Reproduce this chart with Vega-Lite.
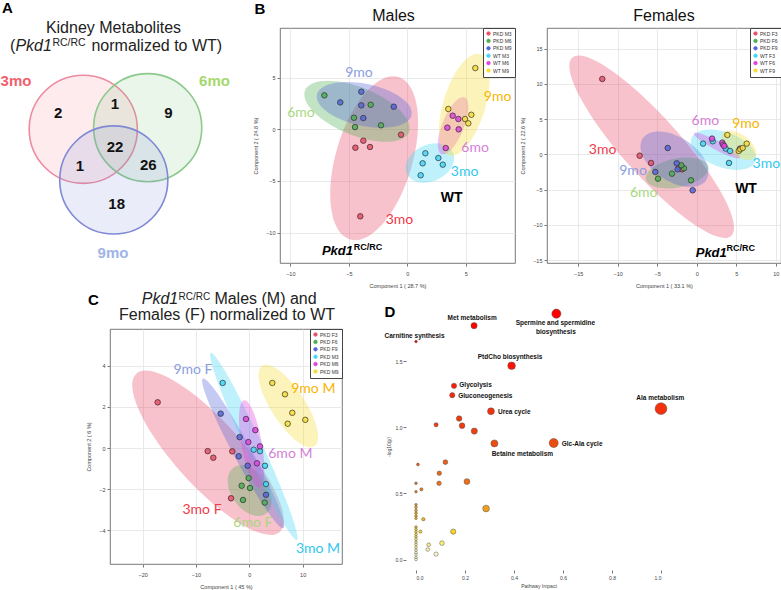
{
  "$schema": "https://vega.github.io/schema/vega-lite/v6.json",
  "padding": 0,
  "background": "white",
  "spacing": 0,
  "resolve": {"scale": {"color": "independent", "fill": "independent", "stroke": "independent", "x": "independent", "y": "independent", "size": "independent"}, "legend": {"color": "independent", "fill": "independent", "stroke": "independent"}},
  "config": {
    "font": "Liberation Sans",
    "view": {"stroke": "#555", "strokeWidth": 0.8},
    "axis": {"labelFontSize": 5.5, "labelColor": "#444", "titleFontSize": 5.5, "titleFontWeight": "normal", "titleColor": "#444", "gridColor": "#e3e3e3", "gridWidth": 0.8, "tickColor": "#777", "tickSize": 3, "domain": false, "labelFont": "Liberation Sans", "titleFont": "Liberation Sans"},
    "legend": {"title": null, "orient": "top-right", "offset": 0, "padding": 3, "strokeColor": "#444", "fillColor": "#ffffff", "labelFontSize": 5, "symbolSize": 13, "symbolStrokeWidth": 0.7, "symbolFillColor": "transparent", "rowPadding": 0.4, "labelOffset": 2, "symbolType": "circle", "labelColor": "#333"},
    "title": {"fontSize": 16, "fontWeight": "normal", "font": "Liberation Sans", "color": "#111", "offset": 4}
  },
  "datasets": {
    "venn_sets": [{"set": "3mo", "x": -0.52, "y": 0.274}, {"set": "6mo", "x": 0.536, "y": 0.3}, {"set": "9mo", "x": -0.02, "y": -0.557}],
    "venn_counts": [{"n": "2", "x": -0.93, "y": 0.546}, {"n": "1", "x": 0, "y": 0.684}, {"n": "9", "x": 0.874, "y": 0.546}, {"n": "22", "x": 0, "y": -0.011}, {"n": "1", "x": -0.574, "y": -0.328}, {"n": "26", "x": 0.546, "y": -0.311}, {"n": "18", "x": 0.028, "y": -0.956}],
    "venn_labels": [{"set": "3mo", "x": -1.623, "y": 1.066}, {"set": "6mo", "x": 1.631, "y": 1.066}, {"set": "9mo", "x": -0.033, "y": -1.762}],
    "m_pts": [
      {"g": "PKD M3", "x": -3.76, "y": -1.1}, {"g": "PKD M3", "x": -4.44, "y": -1.78}, {"g": "PKD M3", "x": -3.19, "y": -1.71}, {"g": "PKD M3", "x": -0.54, "y": -0.52}, {"g": "PKD M3", "x": -4.02, "y": -8.42},
      {"g": "PKD M6", "x": -7.09, "y": 3.29}, {"g": "PKD M6", "x": -4.56, "y": 1.12}, {"g": "PKD M6", "x": -4.47, "y": 0.22}, {"g": "PKD M6", "x": -3.13, "y": 2.38}, {"g": "PKD M6", "x": -2.25, "y": 0.39},
      {"g": "PKD M9", "x": -5.73, "y": 2.61}, {"g": "PKD M9", "x": -3.93, "y": 3.64}, {"g": "PKD M9", "x": -3.93, "y": 2.32}, {"g": "PKD M9", "x": -3.76, "y": 1.09}, {"g": "PKD M9", "x": -1.16, "y": 2.19},
      {"g": "WT M3", "x": 1.54, "y": -2.32}, {"g": "WT M3", "x": 1.31, "y": -3.29}, {"g": "WT M3", "x": 1.14, "y": -4.45}, {"g": "WT M3", "x": 2.65, "y": -2.78}, {"g": "WT M3", "x": 3.03, "y": -3.42},
      {"g": "WT M6", "x": 3.28, "y": -1.81}, {"g": "WT M6", "x": 3.42, "y": 0.16}, {"g": "WT M6", "x": 3.88, "y": 1.32}, {"g": "WT M6", "x": 4.36, "y": 1.0}, {"g": "WT M6", "x": 4.39, "y": 0.0},
      {"g": "WT M9", "x": 3.5, "y": 1.97}, {"g": "WT M9", "x": 4.93, "y": 1.0}, {"g": "WT M9", "x": 5.47, "y": 1.41}, {"g": "WT M9", "x": 5.21, "y": 0.58}, {"g": "WT M9", "x": 5.81, "y": 5.93}
    ],
    "m_ell": [{"g": "PKD M3", "x": -2.83, "y": -2.8}, {"g": "PKD M6", "x": -4.3, "y": 1.75}, {"g": "PKD M9", "x": -3.68, "y": 2.37}, {"g": "WT M3", "x": 1.93, "y": -3.26}, {"g": "WT M6", "x": 3.91, "y": 0.35}, {"g": "WT M9", "x": 4.87, "y": 2.38}],
    "m_lab": [{"t": "9mo", "g": "PKD M9", "x": -4.13, "y": 5.45}, {"t": "6mo", "g": "PKD M6", "x": -9.09, "y": 1.58}, {"t": "9mo", "g": "WT M9", "x": 7.71, "y": 3.13}, {"t": "6mo", "g": "WT M6", "x": 5.79, "y": -1.81}, {"t": "3mo", "g": "WT M3", "x": 4.89, "y": -4.13}, {"t": "3mo", "g": "PKD M3", "x": -0.67, "y": -8.78}],
    "f_pts": [
      {"g": "PKD F3", "x": -11.95, "y": 10.68}, {"g": "PKD F3", "x": -7.22, "y": -0.2}, {"g": "PKD F3", "x": -5.78, "y": -1.23}, {"g": "PKD F3", "x": -1.86, "y": -2.13}, {"g": "PKD F3", "x": -2.2, "y": -1.76},
      {"g": "PKD F6", "x": -3.13, "y": -2.75}, {"g": "PKD F6", "x": -4.9, "y": -3.46}, {"g": "PKD F6", "x": -0.72, "y": -3.69}, {"g": "PKD F6", "x": -1.61, "y": -1.99}, {"g": "PKD F6", "x": -1.95, "y": -1.56},
      {"g": "PKD F9", "x": -3.67, "y": 0.89}, {"g": "PKD F9", "x": -5.24, "y": -2.51}, {"g": "PKD F9", "x": -2.53, "y": -1.28}, {"g": "PKD F9", "x": -2.41, "y": -2.13}, {"g": "PKD F9", "x": -0.51, "y": -5.11},
      {"g": "WT F3", "x": 0.8, "y": 1.51}, {"g": "WT F3", "x": 2.03, "y": 1.84}, {"g": "WT F3", "x": 3.67, "y": 0.8}, {"g": "WT F3", "x": 4.22, "y": 0.47}, {"g": "WT F3", "x": 4.09, "y": -1.23},
      {"g": "WT F6", "x": 1.94, "y": 2.22}, {"g": "WT F6", "x": 3.24, "y": 1.65}, {"g": "WT F6", "x": 3.33, "y": 1.37}, {"g": "WT F6", "x": 3.5, "y": 1.18}, {"g": "WT F6", "x": 5.48, "y": 0.8},
      {"g": "WT F9", "x": 3.88, "y": 2.74}, {"g": "WT F9", "x": 5.32, "y": 0.47}, {"g": "WT F9", "x": 5.52, "y": 0.71}, {"g": "WT F9", "x": 5.82, "y": 0.89}, {"g": "WT F9", "x": 6.33, "y": 1.51}
    ],
    "f_ell": [{"g": "PKD F3", "x": -5.7, "y": 1.06}, {"g": "PKD F6", "x": -2.47, "y": -2.65}, {"g": "PKD F9", "x": -2.81, "y": -0.71}, {"g": "WT F3", "x": 3.39, "y": 0.65}, {"g": "WT F6", "x": 2.57, "y": 1.25}, {"g": "WT F9", "x": 5.33, "y": 1.29}],
    "f_lab": [{"t": "6mo", "g": "WT F6", "x": 1.09, "y": 4.72}, {"t": "9mo", "g": "WT F9", "x": 6.24, "y": 4.26}, {"t": "3mo", "g": "PKD F3", "x": -11.92, "y": 0.54}, {"t": "9mo", "g": "PKD F9", "x": -8.06, "y": -2.41}, {"t": "6mo", "g": "PKD F6", "x": -6.71, "y": -5.56}, {"t": "3mo", "g": "WT F3", "x": 8.81, "y": -1.38}],
    "c_pts": [
      {"g": "PKD F3", "x": -17.18, "y": 2.22}, {"g": "PKD F3", "x": -7.8, "y": -0.15}, {"g": "PKD F3", "x": -6.75, "y": -0.47}, {"g": "PKD F3", "x": -3.19, "y": -0.16}, {"g": "PKD F3", "x": -3.43, "y": -2.44},
      {"g": "PKD F6", "x": -0.12, "y": -1.46}, {"g": "PKD F6", "x": -1.43, "y": -1.83}, {"g": "PKD F6", "x": 0.13, "y": -1.94}, {"g": "PKD F6", "x": -1.18, "y": -2.52}, {"g": "PKD F6", "x": 2.89, "y": -2.65},
      {"g": "PKD F9", "x": -5.37, "y": 1.67}, {"g": "PKD F9", "x": -1.81, "y": 0.53}, {"g": "PKD F9", "x": -1.99, "y": -0.4}, {"g": "PKD F9", "x": -0.31, "y": -0.86}, {"g": "PKD F9", "x": 3.13, "y": -2.27},
      {"g": "PKD M3", "x": -4.99, "y": 3.16}, {"g": "PKD M3", "x": 0.82, "y": -0.08}, {"g": "PKD M3", "x": 2.0, "y": -0.15}, {"g": "PKD M3", "x": 2.94, "y": -0.86}, {"g": "PKD M3", "x": 3.13, "y": -1.75},
      {"g": "PKD M6", "x": -0.62, "y": 1.41}, {"g": "PKD M6", "x": 1.13, "y": 0.87}, {"g": "PKD M6", "x": -0.19, "y": 0.29}, {"g": "PKD M6", "x": 2.0, "y": 0.08}, {"g": "PKD M6", "x": 1.44, "y": -0.74},
      {"g": "PKD M9", "x": 4.31, "y": 3.16}, {"g": "PKD M9", "x": 6.69, "y": 2.61}, {"g": "PKD M9", "x": 8.06, "y": 1.71}, {"g": "PKD M9", "x": 7.2, "y": 1.18}, {"g": "PKD M9", "x": 10.5, "y": 1.37}
    ],
    "c_ell": [{"g": "PKD F3", "x": -7.74, "y": -0.23}, {"g": "PKD F6", "x": 0.07, "y": -2.07}, {"g": "PKD F9", "x": -1.15, "y": -0.26}, {"g": "PKD M3", "x": 0.85, "y": 0.08}, {"g": "PKD M6", "x": 0.44, "y": 0.2}, {"g": "PKD M9", "x": 7.32, "y": 2.04}],
    "c_lab": [{"t": "9mo F", "g": "PKD F9", "x": -10.56, "y": 3.79}, {"t": "9mo M", "g": "PKD M9", "x": 12.0, "y": 2.89}, {"t": "6mo M", "g": "PKD M6", "x": 7.69, "y": -0.31}, {"t": "3mo F", "g": "PKD F3", "x": -8.87, "y": -3.01}, {"t": "6mo F", "g": "PKD F6", "x": 0.66, "y": -3.65}, {"t": "3mo M", "g": "PKD M3", "x": 12.88, "y": -4.88}],
    "d_pts": [
      {"x": 0.573, "y": 1.861}, {"x": 0.237, "y": 1.77}, {"x": 0.0, "y": 1.65}, {"x": 0.39, "y": 1.467}, {"x": 0.155, "y": 1.315}, {"x": 0.148, "y": 1.244}, {"x": 1.0, "y": 1.142}, {"x": 0.306, "y": 1.122}, {"x": 0.176, "y": 1.067}, {"x": 0.082, "y": 1.02}, {"x": 0.188, "y": 1.013}, {"x": 0.238, "y": 0.972}, {"x": 0.32, "y": 0.879}, {"x": 0.562, "y": 0.882}, {"x": 0.008, "y": 0.719}, {"x": 0.12, "y": 0.737}, {"x": 0.095, "y": 0.653}, {"x": 0.0, "y": 0.577}, {"x": 0.094, "y": 0.577}, {"x": 0.208, "y": 0.59}, {"x": 0.022, "y": 0.531}, {"x": 0.0, "y": 0.513},
      {"x": 0.0, "y": 0.414}, {"x": 0.0, "y": 0.394}, {"x": 0.0, "y": 0.371}, {"x": 0.0, "y": 0.351}, {"x": 0.0, "y": 0.33}, {"x": 0.0, "y": 0.312}, {"x": 0.286, "y": 0.386}, {"x": 0.03, "y": 0.305},
      {"x": 0.0, "y": 0.246}, {"x": 0.0, "y": 0.229}, {"x": 0.0, "y": 0.211}, {"x": 0.0, "y": 0.19}, {"x": 0.0, "y": 0.17}, {"x": 0.0, "y": 0.152}, {"x": 0.0, "y": 0.132}, {"x": 0.0, "y": 0.112}, {"x": 0.0, "y": 0.091}, {"x": 0.0, "y": 0.071}, {"x": 0.0, "y": 0.051}, {"x": 0.0, "y": 0.033}, {"x": 0.0, "y": 0.013},
      {"x": 0.018, "y": 0.211}, {"x": 0.152, "y": 0.211}, {"x": 0.106, "y": 0.124}, {"x": 0.052, "y": 0.112}, {"x": 0.048, "y": 0.076}, {"x": 0.082, "y": 0.041}, {"x": 0.0, "y": 0.0}
    ],
    "d_lab": [
      {"t": "Met metabolism", "x": 0.229, "y": 1.826}, {"t": "Spermine and spermidine", "x": 0.569, "y": 1.788}, {"t": "biosynthesis", "x": 0.571, "y": 1.724}, {"t": "Carnitine synthesis", "x": -0.006, "y": 1.694}, {"t": "PtdCho biosynthesis", "x": 0.384, "y": 1.534}, {"t": "Glycolysis", "x": 0.243, "y": 1.318}, {"t": "Gluconeogenesis", "x": 0.283, "y": 1.241}, {"t": "Ala metabolism", "x": 0.997, "y": 1.222}, {"t": "Urea cycle", "x": 0.401, "y": 1.12}, {"t": "Betaine metabolism", "x": 0.434, "y": 0.799}, {"t": "Glc-Ala cycle", "x": 0.678, "y": 0.876}
    ]
  },
  "vconcat": [
    {
      "resolve": {"scale": {"color": "independent", "fill": "independent", "stroke": "independent", "x": "independent", "y": "independent"}, "legend": {"color": "independent", "fill": "independent", "stroke": "independent"}},
      "hconcat": [
        {
          "width": 248, "height": 235, "view": {"stroke": null},
          "encoding": {
            "x": {"field": "x", "type": "quantitative", "scale": {"domain": [-1.885, 2.18], "nice": false, "zero": false}, "axis": null},
            "y": {"field": "y", "type": "quantitative", "scale": {"domain": [-1.918, 1.934], "nice": false, "zero": false}, "axis": null}
          },
          "layer": [
            {"data": {"name": "venn_sets"}, "mark": {"type": "point", "shape": "circle", "filled": true, "size": 11690, "opacity": 1, "fillOpacity": 0.15, "strokeWidth": 1.6},
             "encoding": {"fill": {"field": "set", "type": "nominal", "scale": {"domain": ["3mo", "6mo", "9mo"], "range": ["#f07890", "#7cc47c", "#7080d8"]}, "legend": null},
                          "stroke": {"field": "set", "type": "nominal", "scale": {"domain": ["3mo", "6mo", "9mo"], "range": ["#ee8aa0", "#8cc98c", "#7f89d6"]}, "legend": null}}},
            {"data": {"name": "venn_counts"}, "mark": {"type": "text", "fontSize": 15, "fontWeight": "bold", "color": "#111"}, "encoding": {"text": {"field": "n"}}},
            {"data": {"name": "venn_labels"}, "mark": {"type": "text", "fontSize": 15, "fontWeight": "bold"},
             "encoding": {"text": {"field": "set"}, "color": {"field": "set", "type": "nominal", "scale": {"domain": ["3mo", "6mo", "9mo"], "range": ["#f2606f", "#a6d86e", "#9fb4e7"]}, "legend": null}}},
            {"data": {"values": [{"t": "A", "x": -1.762, "y": 2.262}, {"t": "B", "x": 2.377, "y": 2.246}]}, "mark": {"type": "text", "fontSize": 15, "fontWeight": "bold", "color": "#000"}, "encoding": {"text": {"field": "t"}}},
            {"data": {"values": [{"t": "Kidney Metabolites", "x": -0.025, "y": 1.934}, {"t": "(", "x": -1.677, "y": 1.639}, {"t": "normalized to WT)", "x": 0.685, "y": 1.639}]}, "mark": {"type": "text", "fontSize": 16, "color": "#222"}, "encoding": {"text": {"field": "t"}}},
            {"data": {"values": [{"t": "Pkd1", "x": -1.333, "y": 1.639}]}, "mark": {"type": "text", "fontSize": 16, "fontStyle": "italic", "color": "#222"}, "encoding": {"text": {"field": "t"}}},
            {"data": {"values": [{"t": "RC/RC", "x": -0.754, "y": 1.693}]}, "mark": {"type": "text", "fontSize": 10.5, "color": "#222"}, "encoding": {"text": {"field": "t"}}}
          ]
        },
        {
          "width": 235, "height": 235,
          "title": {"text": "Males", "dx": -4},
          "encoding": {
            "x": {"field": "x", "type": "quantitative", "scale": {"domain": [-10.88, 9.2], "nice": false, "zero": false}, "axis": {"values": [-10, -5, 0, 5], "title": "Component 1 ( 28.7 %)", "labelPadding": 5, "titlePadding": 7}},
            "y": {"field": "y", "type": "quantitative", "scale": {"domain": [-12.94, 9.81], "nice": false, "zero": false}, "axis": {"values": [-10, -5, 0, 5], "title": "Component 2 ( 24.8 %)", "labelPadding": 2, "titlePadding": 7}}
          },
          "layer": [
            {"data": {"name": "m_ell"}, "transform": [{"filter": {"field": "g", "equal": "PKD M3"}}], "mark": {"type": "point", "filled": true, "size": 4, "opacity": 0.35, "strokeWidth": 0, "color": "#e8506a", "angle": -73.4, "shape": "M -84.7 0 A 84.7 38.3 0 0 1 84.7 0 A 84.7 38.3 0 0 1 -84.7 0 Z"}},
            {"data": {"name": "m_ell"}, "transform": [{"filter": {"field": "g", "equal": "PKD M6"}}], "mark": {"type": "point", "filled": true, "size": 4, "opacity": 0.35, "strokeWidth": 0, "color": "#4fae55", "angle": 22, "shape": "M -56 0 A 56 24 0 0 1 56 0 A 56 24 0 0 1 -56 0 Z"}},
            {"data": {"name": "m_ell"}, "transform": [{"filter": {"field": "g", "equal": "PKD M9"}}], "mark": {"type": "point", "filled": true, "size": 4, "opacity": 0.35, "strokeWidth": 0, "color": "#5566d6", "angle": 12, "shape": "M -48.4 0 A 48.4 21 0 0 1 48.4 0 A 48.4 21 0 0 1 -48.4 0 Z"}},
            {"data": {"name": "m_ell"}, "transform": [{"filter": {"field": "g", "equal": "WT M3"}}], "mark": {"type": "point", "filled": true, "size": 4, "opacity": 0.35, "strokeWidth": 0, "color": "#45d6f6", "angle": -25, "shape": "M -25.3 0 A 25.3 18.3 0 0 1 25.3 0 A 25.3 18.3 0 0 1 -25.3 0 Z"}},
            {"data": {"name": "m_ell"}, "transform": [{"filter": {"field": "g", "equal": "WT M6"}}], "mark": {"type": "point", "filled": true, "size": 4, "opacity": 0.35, "strokeWidth": 0, "color": "#e044e0", "angle": -68, "shape": "M -30.6 0 A 30.6 10.9 0 0 1 30.6 0 A 30.6 10.9 0 0 1 -30.6 0 Z"}},
            {"data": {"name": "m_ell"}, "transform": [{"filter": {"field": "g", "equal": "WT M9"}}], "mark": {"type": "point", "filled": true, "size": 4, "opacity": 0.35, "strokeWidth": 0, "color": "#f6dc3a", "angle": -73, "shape": "M -53 0 A 53 21 0 0 1 53 0 A 53 21 0 0 1 -53 0 Z"}},
            {"data": {"name": "m_pts"}, "mark": {"type": "point", "filled": false, "size": 30, "opacity": 1, "strokeWidth": 0.5},
             "encoding": {"stroke": {"field": "g", "type": "nominal", "scale": {"domain": ["PKD M3", "PKD M6", "PKD M9", "WT M3", "WT M6", "WT M9"], "range": ["#e8506a", "#4fae55", "#5566d6", "#45d6f6", "#e044e0", "#f6dc3a"]}, "legend": {"encode": {"symbols": {"update": {"fill": {"value": "transparent"}}}}}}}},
            {"data": {"name": "m_pts"}, "mark": {"type": "point", "filled": true, "size": 30, "opacity": 1, "fillOpacity": 0.85, "stroke": "#333", "strokeWidth": 0.7},
             "encoding": {"fill": {"field": "g", "type": "nominal", "scale": {"domain": ["PKD M3", "PKD M6", "PKD M9", "WT M3", "WT M6", "WT M9"], "range": ["#e8506a", "#4fae55", "#5566d6", "#45d6f6", "#e044e0", "#f6dc3a"]}, "legend": null}}},
            {"data": {"name": "m_lab"}, "mark": {"type": "text", "font": "Lato", "fontSize": 14},
             "encoding": {"text": {"field": "t"}, "color": {"field": "g", "type": "nominal", "scale": {"domain": ["PKD M3", "PKD M6", "PKD M9", "WT M3", "WT M6", "WT M9"], "range": ["#f03a4a", "#a8d880", "#8a9ee0", "#30c8ef", "#d47fd8", "#f7b500"]}, "legend": null}}},
            {"data": {"values": [{"t": "WT", "x": 3.78, "y": -6.65}]}, "mark": {"type": "text", "fontSize": 14, "fontWeight": "bold", "color": "#000"}, "encoding": {"text": {"field": "t"}}},
            {"data": {"values": [{"t": "Pkd1", "x": -5.97, "y": -11.73}]}, "mark": {"type": "text", "fontSize": 13, "fontWeight": "bold", "fontStyle": "italic", "color": "#000"}, "encoding": {"text": {"field": "t"}}},
            {"data": {"values": [{"t": "RC/RC", "x": -3.36, "y": -11.39}]}, "mark": {"type": "text", "fontSize": 9, "fontWeight": "bold", "color": "#000"}, "encoding": {"text": {"field": "t"}}}
          ]
        },
        {
          "width": 234, "height": 235,
          "title": {"text": "Females"},
          "encoding": {
            "x": {"field": "x", "type": "quantitative", "scale": {"domain": [-18.95, 10.67], "nice": false, "zero": false}, "axis": {"values": [-15, -10, -5, 0, 5, 10], "title": "Component 1 ( 33.1 %)", "labelPadding": 5, "titlePadding": 7}},
            "y": {"field": "y", "type": "quantitative", "scale": {"domain": [-15.42, 17.91], "nice": false, "zero": false}, "axis": {"values": [-15, -10, -5, 0, 5, 10, 15], "title": "Component 2 ( 22.6 %)", "labelPadding": 2, "titlePadding": 7}}
          },
          "layer": [
            {"data": {"name": "f_ell"}, "transform": [{"filter": {"field": "g", "equal": "PKD F3"}}], "mark": {"type": "point", "filled": true, "size": 4, "opacity": 0.35, "strokeWidth": 0, "color": "#e8506a", "angle": 48.3, "shape": "M -119.4 0 A 119.4 29 0 0 1 119.4 0 A 119.4 29 0 0 1 -119.4 0 Z"}},
            {"data": {"name": "f_ell"}, "transform": [{"filter": {"field": "g", "equal": "PKD F6"}}], "mark": {"type": "point", "filled": true, "size": 4, "opacity": 0.35, "strokeWidth": 0, "color": "#4fae55", "angle": -11.5, "shape": "M -31.8 0 A 31.8 14.5 0 0 1 31.8 0 A 31.8 14.5 0 0 1 -31.8 0 Z"}},
            {"data": {"name": "f_ell"}, "transform": [{"filter": {"field": "g", "equal": "PKD F9"}}], "mark": {"type": "point", "filled": true, "size": 4, "opacity": 0.35, "strokeWidth": 0, "color": "#5566d6", "angle": 33, "shape": "M -38 0 A 38 22 0 0 1 38 0 A 38 22 0 0 1 -38 0 Z"}},
            {"data": {"name": "f_ell"}, "transform": [{"filter": {"field": "g", "equal": "WT F3"}}], "mark": {"type": "point", "filled": true, "size": 4, "opacity": 0.35, "strokeWidth": 0, "color": "#45d6f6", "angle": 20, "shape": "M -34 0 A 34 17.7 0 0 1 34 0 A 34 17.7 0 0 1 -34 0 Z"}},
            {"data": {"name": "f_ell"}, "transform": [{"filter": {"field": "g", "equal": "WT F6"}}], "mark": {"type": "point", "filled": true, "size": 4, "opacity": 0.35, "strokeWidth": 0, "color": "#e044e0", "angle": 27.9, "shape": "M -26 0 A 26 4.5 0 0 1 26 0 A 26 4.5 0 0 1 -26 0 Z"}},
            {"data": {"name": "f_ell"}, "transform": [{"filter": {"field": "g", "equal": "WT F9"}}], "mark": {"type": "point", "filled": true, "size": 4, "opacity": 0.35, "strokeWidth": 0, "color": "#f6dc3a", "angle": 36, "shape": "M -20.2 0 A 20.2 10.8 0 0 1 20.2 0 A 20.2 10.8 0 0 1 -20.2 0 Z"}},
            {"data": {"name": "f_pts"}, "mark": {"type": "point", "filled": false, "size": 30, "opacity": 1, "strokeWidth": 0.5},
             "encoding": {"stroke": {"field": "g", "type": "nominal", "scale": {"domain": ["PKD F3", "PKD F6", "PKD F9", "WT F3", "WT F6", "WT F9"], "range": ["#e8506a", "#4fae55", "#5566d6", "#45d6f6", "#e044e0", "#f6dc3a"]}, "legend": {"encode": {"symbols": {"update": {"fill": {"value": "transparent"}}}}}}}},
            {"data": {"name": "f_pts"}, "mark": {"type": "point", "filled": true, "size": 30, "opacity": 1, "fillOpacity": 0.85, "stroke": "#333", "strokeWidth": 0.7},
             "encoding": {"fill": {"field": "g", "type": "nominal", "scale": {"domain": ["PKD F3", "PKD F6", "PKD F9", "WT F3", "WT F6", "WT F9"], "range": ["#e8506a", "#4fae55", "#5566d6", "#45d6f6", "#e044e0", "#f6dc3a"]}, "legend": null}}},
            {"data": {"name": "f_lab"}, "mark": {"type": "text", "font": "Lato", "fontSize": 14},
             "encoding": {"text": {"field": "t"}, "color": {"field": "g", "type": "nominal", "scale": {"domain": ["PKD F3", "PKD F6", "PKD F9", "WT F3", "WT F6", "WT F9"], "range": ["#f03a4a", "#a8d880", "#8a9ee0", "#30c8ef", "#d47fd8", "#f7b500"]}, "legend": null}}},
            {"data": {"values": [{"t": "WT", "x": 6.24, "y": -4.96}]}, "mark": {"type": "text", "fontSize": 14, "fontWeight": "bold", "color": "#000"}, "encoding": {"text": {"field": "t"}}},
            {"data": {"values": [{"t": "Pkd1", "x": 1.84, "y": -13.96}]}, "mark": {"type": "text", "fontSize": 13, "fontWeight": "bold", "fontStyle": "italic", "color": "#000"}, "encoding": {"text": {"field": "t"}}},
            {"data": {"values": [{"t": "RC/RC", "x": 5.58, "y": -13.29}]}, "mark": {"type": "text", "fontSize": 9, "fontWeight": "bold", "color": "#000"}, "encoding": {"text": {"field": "t"}}}
          ]
        }
      ],
      "spacing": 32,
      "bounds": "flush"
    },
    {
      "resolve": {"scale": {"color": "independent", "fill": "independent", "stroke": "independent", "x": "independent", "y": "independent", "size": "independent"}, "legend": {"color": "independent", "fill": "independent", "stroke": "independent"}},
      "hconcat": [
        {"width": 78, "height": 235, "view": {"stroke": null}, "data": {"values": [{}]}, "mark": {"type": "point", "opacity": 0, "size": 1}},
        {
          "width": 232, "height": 235,
          "encoding": {
            "x": {"field": "x", "type": "quantitative", "scale": {"domain": [-26.12, 17.38], "nice": false, "zero": false}, "axis": {"values": [-20, -10, 0, 10], "title": "Component 1 ( 45 %)", "labelPadding": 5, "titlePadding": 7}},
            "y": {"field": "y", "type": "quantitative", "scale": {"domain": [-5.63, 5.78], "nice": false, "zero": false}, "axis": {"values": [-4, -2, 0, 2, 4], "title": "Component 2 ( 6 %)", "labelPadding": 2, "titlePadding": 7}}
          },
          "layer": [
            {"data": {"name": "c_ell"}, "transform": [{"filter": {"field": "g", "equal": "PKD F3"}}], "mark": {"type": "point", "filled": true, "size": 4, "opacity": 0.35, "strokeWidth": 0, "color": "#e8506a", "angle": 47.8, "shape": "M -106.8 0 A 106.8 33 0 0 1 106.8 0 A 106.8 33 0 0 1 -106.8 0 Z"}},
            {"data": {"name": "c_ell"}, "transform": [{"filter": {"field": "g", "equal": "PKD F6"}}], "mark": {"type": "point", "filled": true, "size": 4, "opacity": 0.35, "strokeWidth": 0, "color": "#4fae55", "angle": 55, "shape": "M -28.1 0 A 28.1 18.3 0 0 1 28.1 0 A 28.1 18.3 0 0 1 -28.1 0 Z"}},
            {"data": {"name": "c_ell"}, "transform": [{"filter": {"field": "g", "equal": "PKD F9"}}], "mark": {"type": "point", "filled": true, "size": 4, "opacity": 0.35, "strokeWidth": 0, "color": "#5566d6", "angle": 61.7, "shape": "M -85 0 A 85 9 0 0 1 85 0 A 85 9 0 0 1 -85 0 Z"}},
            {"data": {"name": "c_ell"}, "transform": [{"filter": {"field": "g", "equal": "PKD M3"}}], "mark": {"type": "point", "filled": true, "size": 4, "opacity": 0.35, "strokeWidth": 0, "color": "#45d6f6", "angle": 65.3, "shape": "M -103 0 A 103 8.5 0 0 1 103 0 A 103 8.5 0 0 1 -103 0 Z"}},
            {"data": {"name": "c_ell"}, "transform": [{"filter": {"field": "g", "equal": "PKD M6"}}], "mark": {"type": "point", "filled": true, "size": 4, "opacity": 0.35, "strokeWidth": 0, "color": "#e044e0", "angle": 80, "shape": "M -44.4 0 A 44.4 10.2 0 0 1 44.4 0 A 44.4 10.2 0 0 1 -44.4 0 Z"}},
            {"data": {"name": "c_ell"}, "transform": [{"filter": {"field": "g", "equal": "PKD M9"}}], "mark": {"type": "point", "filled": true, "size": 4, "opacity": 0.35, "strokeWidth": 0, "color": "#f6dc3a", "angle": 57, "shape": "M -48 0 A 48 17 0 0 1 48 0 A 48 17 0 0 1 -48 0 Z"}},
            {"data": {"name": "c_pts"}, "mark": {"type": "point", "filled": false, "size": 30, "opacity": 1, "strokeWidth": 0.5},
             "encoding": {"stroke": {"field": "g", "type": "nominal", "scale": {"domain": ["PKD F3", "PKD F6", "PKD F9", "PKD M3", "PKD M6", "PKD M9"], "range": ["#e8506a", "#4fae55", "#5566d6", "#45d6f6", "#e044e0", "#f6dc3a"]}, "legend": {"encode": {"symbols": {"update": {"fill": {"value": "transparent"}}}}}}}},
            {"data": {"name": "c_pts"}, "mark": {"type": "point", "filled": true, "size": 30, "opacity": 1, "fillOpacity": 0.85, "stroke": "#333", "strokeWidth": 0.7},
             "encoding": {"fill": {"field": "g", "type": "nominal", "scale": {"domain": ["PKD F3", "PKD F6", "PKD F9", "PKD M3", "PKD M6", "PKD M9"], "range": ["#e8506a", "#4fae55", "#5566d6", "#45d6f6", "#e044e0", "#f6dc3a"]}, "legend": null}}},
            {"data": {"name": "c_lab"}, "mark": {"type": "text", "font": "Lato", "fontSize": 14},
             "encoding": {"text": {"field": "t"}, "color": {"field": "g", "type": "nominal", "scale": {"domain": ["PKD F3", "PKD F6", "PKD F9", "PKD M3", "PKD M6", "PKD M9"], "range": ["#f03a4a", "#a8d880", "#8a9ee0", "#30c8ef", "#d47fd8", "#f7b500"]}, "legend": null}}},
            {"data": {"values": [{"t": "C", "x": -29.25, "y": 7.21}]}, "mark": {"type": "text", "fontSize": 15, "fontWeight": "bold", "color": "#000"}, "encoding": {"text": {"field": "t"}}},
            {"data": {"values": [{"t": "Pkd1", "x": -16.74, "y": 7.22}]}, "mark": {"type": "text", "fontSize": 16, "fontStyle": "italic", "color": "#222"}, "encoding": {"text": {"field": "t"}}},
            {"data": {"values": [{"t": "RC/RC", "x": -10.3, "y": 7.35}]}, "mark": {"type": "text", "fontSize": 10, "color": "#222"}, "encoding": {"text": {"field": "t"}}},
            {"data": {"values": [{"t": "Males (M) and", "x": 3.04, "y": 7.22}, {"t": "Females (F) normalized to WT", "x": -4.18, "y": 6.46}]}, "mark": {"type": "text", "fontSize": 16, "color": "#222"}, "encoding": {"text": {"field": "t"}}}
          ]
        },
        {"width": 10, "height": 235, "view": {"stroke": null}, "data": {"values": [{}]}, "mark": {"type": "point", "opacity": 0, "size": 1}},
        {
          "width": 245, "height": 235, "view": {"stroke": null},
          "encoding": {
            "x": {"field": "x", "type": "quantitative", "scale": {"domain": [0, 1], "nice": false, "zero": false}, "axis": {"values": [0, 0.2, 0.4, 0.6, 0.8, 1], "format": ".1f", "title": "Pathway Impact", "grid": false, "offset": 6, "tickSize": 3, "labelPadding": 2, "titlePadding": 3, "labelFontSize": 5, "titleFontSize": 5}},
            "y": {"field": "y", "type": "quantitative", "scale": {"domain": [-0.034, 1.745], "nice": false, "zero": false}, "axis": {"values": [0, 0.5, 1, 1.5], "format": ".1f", "title": "-log10(p)", "grid": false, "offset": 10, "tickSize": 3, "labelPadding": 1, "titlePadding": 4, "labelFontSize": 5, "titleFontSize": 5}}
          },
          "layer": [
            {"data": {"values": [{}]}, "mark": {"type": "rule", "color": "#666", "strokeWidth": 0.8}, "encoding": {"x": {"datum": -0.0408}, "y": {"datum": 0}, "y2": {"datum": 1.5}}},
            {"data": {"values": [{}]}, "mark": {"type": "rule", "color": "#666", "strokeWidth": 0.8}, "encoding": {"x": {"datum": 0}, "x2": {"datum": 1}, "y": {"datum": -0.082}}},
            {"data": {"name": "d_pts"}, "mark": {"type": "point", "filled": true, "opacity": 1, "stroke": "#555", "strokeWidth": 0.5},
             "encoding": {
               "size": {"field": "x", "type": "quantitative", "scale": {"domain": [0, 1], "range": [7, 140]}, "legend": null},
               "fill": {"field": "y", "type": "quantitative", "scale": {"domain": [0, 0.05, 0.12, 0.2, 0.3, 0.4, 0.55, 0.75, 1.0, 1.3, 1.6], "range": ["#ffffff", "#fbf6c4", "#fbef7c", "#f8d82a", "#f3b81c", "#f09a1c", "#ec7318", "#eb5a14", "#ef3c10", "#fa1e08", "#ff0000"]}, "legend": null}
             }},
            {"data": {"name": "d_lab"}, "mark": {"type": "text", "fontSize": 6.5, "fontWeight": "bold", "color": "#111"}, "encoding": {"text": {"field": "t"}}},
            {"data": {"values": [{"t": "D", "x": -0.106, "y": 1.874}]}, "mark": {"type": "text", "fontSize": 15, "fontWeight": "bold", "color": "#000"}, "encoding": {"text": {"field": "t"}}}
          ]
        }
      ],
      "spacing": 32,
      "bounds": "flush"
    }
  ]
}
